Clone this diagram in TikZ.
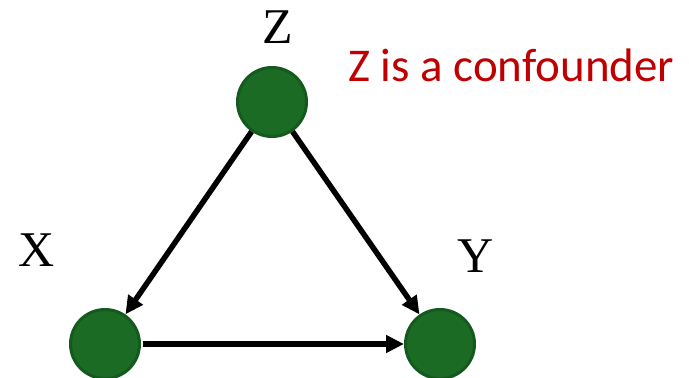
\documentclass[tikz,border=0pt]{standalone}
\usepackage{fontspec}
\setmainfont{Liberation Serif}
\newfontfamily\calibrifont{Carlito}
\usepackage{tikz}
\usetikzlibrary{arrows.meta, positioning}
\definecolor{NodeGreen}{HTML}{1B6B25}
\definecolor{NodeEdge}{HTML}{145A1E}
\definecolor{NoteRed}{HTML}{C00000}

\begin{document}
\begin{tikzpicture}[
  x=1pt, y=-1pt,
  var/.style={circle, draw=NodeEdge, fill=NodeGreen, line width=3pt, minimum size=69pt, inner sep=0pt},
  varlabel/.style={font=\fontsize{50}{52}\selectfont, inner sep=0pt},
  arrow/.style={-{Triangle[length=18pt, width=17pt]}, line width=5.5pt, black}
]
  \useasboundingbox (0,0) rectangle (689,378);
  \node[var] (z) at (272,102) {};
  \node[var] (x) at (105,344) {};
  \node[var] (y) at (440,344) {};

  \node[varlabel] (zlabel) at (278,27) {Z};
  \node[varlabel] (xlabel) at (37,250) {X};
  \node[varlabel] (ylabel) at (476,256) {Y};
  \node[anchor=base west, inner sep=0pt, text=NoteRed, font=\calibrifont\fontsize{47}{49}\selectfont] (note) at (348,81) {Z is a confounder};

  \draw[arrow] (z) -- (x);
  \draw[arrow] (z) -- (y);
  \draw[arrow, shorten <=2pt] (x) -- (y);
\end{tikzpicture}
\end{document}
